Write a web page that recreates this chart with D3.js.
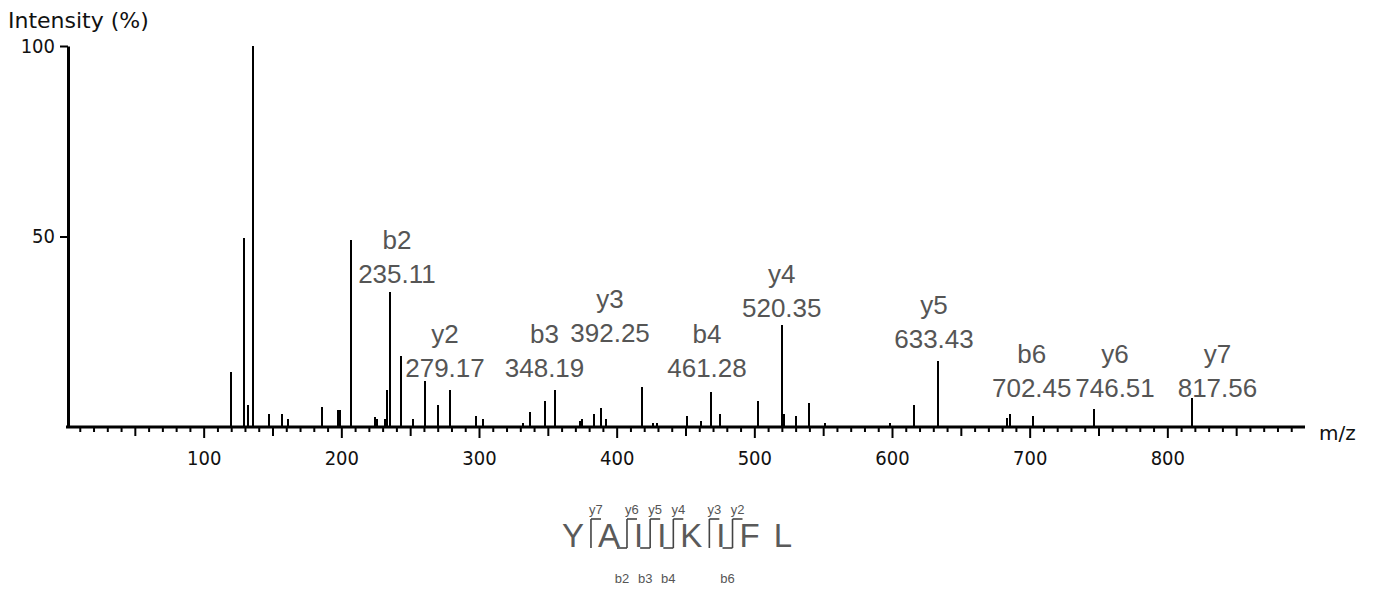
<!DOCTYPE html>
<html>
<head>
<meta charset="utf-8">
<script src="https://cdn.jsdelivr.net/npm/d3@7"></script>
<style>
  body { margin: 0; background: #fff; }
</style>
</head>
<body>
<svg id="chart" width="1376" height="589"></svg>
<script>
// peak list (m/z, relative intensity %)
const peakMz = [120.1, 129.1, 132.1, 136.1, 147.1, 157.0, 161.6, 186.1, 197.3, 198.8,
  207.1, 224.8, 226.2, 231.7, 233.1, 235.11, 243.1, 252.4, 261.0, 270.4,
  279.17, 298.0, 302.8, 331.8, 336.9, 348.19, 355.0, 373.5, 374.6, 383.8,
  388.9, 392.25, 418.2, 426.5, 429.6, 450.8, 461.28, 468.6, 474.8, 502.4,
  520.35, 521.5, 530.3, 539.8, 551.2, 598.6, 615.9, 633.43, 683.7, 685.5,
  702.45, 746.51, 817.56];
const peakIntensity = [14.5, 49.6, 5.8, 100, 3.4, 3.4, 2.2, 5.2, 4.5, 4.5,
  49, 2.7, 2.2, 2.0, 9.7, 35.5, 18.6, 2.2, 12.1, 5.7,
  9.8, 2.8, 2.1, 1.0, 3.9, 6.8, 9.8, 1.5, 2.1, 3.4,
  5.1, 2.1, 10.4, 1.0, 1.0, 2.8, 1.5, 9.2, 3.5, 6.9,
  26.9, 3.3, 2.9, 6.2, 1.1, 1.1, 5.7, 17.4, 2.4, 3.4,
  2.8, 4.6, 7.5];

// annotated fragment ions
const ionNames = ["b2", "y2", "b3", "y3", "b4", "y4", "y5", "b6", "y6", "y7"];
const ionMz = [235.11, 279.17, 348.19, 392.25, 461.28, 520.35, 633.43, 702.45, 746.51, 817.56];
// where the spectrum software put each label (m/z of centre, intensity of value baseline)
const labelMz = [240.4, 275.3, 347.6, 395.2, 465.6, 519.9, 630.5, 701.5, 762.0, 836.4];
const labelLevel = [37.8, 13.1, 13.1, 22.3, 13.1, 28.9, 20.7, 7.9, 7.9, 7.9];

const sequence = ["Y", "A", "I", "I", "K", "I", "F", "L"];

const xMajorTicks = [100, 200, 300, 400, 500, 600, 700, 800];
const yTicks = [50, 100];

const svg = d3.select("#chart");
svg.append("rect").attr("width", 1376).attr("height", 589).attr("fill", "#fff");

const x = d3.scaleLinear().domain([0, 900]).range([66, 1305]);
const y = d3.scaleLinear().domain([0, 100]).range([427, 46]);

const tickFont = "'DejaVu Sans Condensed', 'DejaVu Sans', sans-serif";

// x axis: three tiers of ticks
const midTicks = d3.range(50, 900, 100);
const minorTicks = d3.range(10, 900, 10).filter(v => v % 50 !== 0);

function tier(values, size, labels) {
  const g = svg.append("g").attr("transform", "translate(0," + y(0) + ")")
    .call(d3.axisBottom(x).tickValues(values).tickSize(size).tickSizeOuter(0)
      .tickPadding(13).tickFormat(labels ? d3.format("d") : ""));
  g.select(".domain").remove();
  g.selectAll(".tick line").attr("stroke", "#000").attr("stroke-width", 2);
  g.selectAll(".tick text")
    .attr("font-family", tickFont).attr("font-stretch", "condensed")
    .attr("font-size", 20).attr("fill", "#111");
  return g;
}
tier(minorTicks, 5, false);
tier(midTicks, 9, false);
tier(xMajorTicks, 11, true);

svg.append("line")
  .attr("x1", x(0)).attr("x2", x(900))
  .attr("y1", y(0)).attr("y2", y(0))
  .attr("stroke", "#000").attr("stroke-width", 3);

// y axis
const yAxis = svg.append("g").attr("transform", "translate(" + (x(0) + 2) + ",0)")
  .call(d3.axisLeft(y).tickValues(yTicks).tickSize(8).tickSizeOuter(0).tickPadding(5));
yAxis.select(".domain").attr("stroke", "#000").attr("stroke-width", 3);
yAxis.selectAll(".tick line").attr("stroke", "#000").attr("stroke-width", 2);
yAxis.selectAll(".tick text")
  .attr("font-family", tickFont).attr("font-stretch", "condensed")
  .attr("font-size", 20).attr("fill", "#111");

svg.append("text")
  .attr("x", 8).attr("y", 28)
  .attr("font-family", "'DejaVu Sans', sans-serif")
  .attr("font-size", 22).attr("fill", "#111")
  .text("Intensity (%)");

svg.append("text")
  .attr("x", 1319).attr("y", 440)
  .attr("font-family", "'DejaVu Sans', sans-serif")
  .attr("font-size", 20).attr("fill", "#111")
  .text("m/z");

// peaks
const peaks = peakMz.map((m, i) => ({mz: m, value: peakIntensity[i]}));
svg.append("g").selectAll("line").data(peaks).join("line")
  .attr("x1", d => Math.round(x(d.mz))).attr("x2", d => Math.round(x(d.mz)))
  .attr("y1", y(0)).attr("y2", d => y(d.value))
  .attr("stroke", "#000").attr("stroke-width", 2)
  .attr("shape-rendering", "crispEdges");

// ion labels
const ions = ionNames.map((n, i) => ({name: n, mz: ionMz[i], lx: labelMz[i], ly: labelLevel[i]}));
const labelFont = "'Liberation Sans', Arial, Helvetica, sans-serif";
const lab = svg.append("g").selectAll("g").data(ions).join("g")
  .attr("transform", d => "translate(" + x(d.lx) + "," + y(d.ly) + ")")
  .attr("font-family", labelFont).attr("font-size", 26)
  .attr("fill", "#555").attr("text-anchor", "middle");
lab.append("text").attr("y", -34).text(d => d.name);
lab.append("text").attr("y", 0).text(d => d.mz.toFixed(2));

// peptide sequence with fragment brackets
const seqCenter = 677;
const seqBase = 547;
const seqG = svg.append("g");
const letters = seqG.selectAll("text").data(sequence).join("text")
  .attr("font-family", labelFont).attr("font-size", 33)
  .attr("fill", "#5a5a5a").attr("y", seqBase)
  .text(d => d);
const widths = letters.nodes().map(n => n.getComputedTextLength());
const gap = 14;
let cursor = seqCenter - (d3.sum(widths) + gap * (sequence.length - 1)) / 2;
const cuts = [];
letters.each(function(d, i) {
  d3.select(this).attr("x", cursor);
  cursor += widths[i];
  if (i < sequence.length - 1) {
    cuts.push(cursor + gap / 2);
    cursor += gap;
  }
});

const topY = 519, botY = 548, arm = 10;
cuts.forEach(function(cx, k) {
  const bName = "b" + (k + 1);
  const yName = "y" + (sequence.length - k - 1);
  const hasB = ionNames.includes(bName);
  const hasY = ionNames.includes(yName);
  if (!hasB && !hasY) return;
  seqG.append("line").attr("x1", cx).attr("x2", cx)
    .attr("y1", topY).attr("y2", botY)
    .attr("stroke", "#444").attr("stroke-width", 1.6);
  if (hasY) {
    seqG.append("line").attr("x1", cx).attr("x2", cx + arm)
      .attr("y1", topY).attr("y2", topY)
      .attr("stroke", "#444").attr("stroke-width", 1.6);
    seqG.append("text").attr("x", cx + arm / 2).attr("y", 514)
      .attr("text-anchor", "middle").attr("font-family", labelFont)
      .attr("font-size", 13).attr("fill", "#555").text(yName);
  }
  if (hasB) {
    seqG.append("line").attr("x1", cx - arm).attr("x2", cx)
      .attr("y1", botY).attr("y2", botY)
      .attr("stroke", "#444").attr("stroke-width", 1.6);
    seqG.append("text").attr("x", cx - arm / 2).attr("y", 583)
      .attr("text-anchor", "middle").attr("font-family", labelFont)
      .attr("font-size", 13).attr("fill", "#555").text(bName);
  }
});
</script>
</body>
</html>
